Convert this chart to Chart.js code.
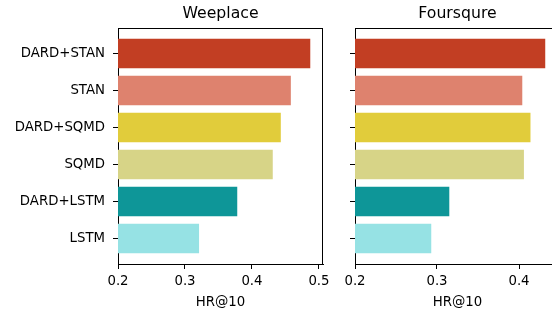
<!DOCTYPE html>
<html>
<head>
<meta charset="utf-8">
<script src="https://cdn.jsdelivr.net/npm/chart.js@4"></script>
<style>
  html, body { margin: 0; padding: 0; background: #fff; overflow: hidden; }
  #wrap { position: relative; width: 552px; height: 313px; overflow: hidden; }
  #left { position: absolute; left: 0; top: 0; }
  #right { position: absolute; left: 330px; top: 0; }
</style>
</head>
<body>
<div id="wrap">
  <canvas id="left" width="330" height="313"></canvas>
  <canvas id="right" width="240" height="313"></canvas>
</div>
<script>
// methods, top to bottom
const methods = ['DARD+STAN', 'STAN', 'DARD+SQMD', 'SQMD', 'DARD+LSTM', 'LSTM'];
const barColors = ['#c23e23', '#de826e', '#e1cc3b', '#d7d487', '#0e9698', '#96e2e4'];
const weeplaceHR = [0.487, 0.458, 0.443, 0.431, 0.378, 0.321];
const foursquareHR = [0.432, 0.404, 0.414, 0.406, 0.315, 0.293];
const weeplaceTicks = [0.2, 0.3, 0.4, 0.5];
const foursquareTicks = [0.2, 0.3, 0.4];

const FONT = 'DejaVu Sans';

// frame + titles drawn like matplotlib
const framePlugin = {
  id: 'frame',
  afterDraw(chart, args, opts) {
    const { ctx, chartArea: a } = chart;
    ctx.save();
    ctx.strokeStyle = '#000';
    ctx.lineWidth = 1;
    ctx.beginPath();
    ctx.moveTo(a.left, a.top + 0.5);
    ctx.lineTo(a.right, a.top + 0.5);
    ctx.moveTo(a.right - 0.5, a.top);
    ctx.lineTo(a.right - 0.5, a.bottom);
    ctx.stroke();
    const cx = (a.left + a.right) / 2;
    ctx.fillStyle = '#000';
    ctx.textAlign = 'center';
    ctx.textBaseline = 'alphabetic';
    ctx.font = '15.7px "' + FONT + '"';
    ctx.fillText(opts.title, cx, 17.5);
    ctx.font = '13.3px "' + FONT + '"';
    ctx.fillText(opts.xlabel, cx, 305.5);
    ctx.restore();
  }
};

function makeChart(id, values, xTicks, xMax, yWidth, padRight, showLabels, title) {
  const points = values.map((v, i) => ({ x: v, y: i }));
  return new Chart(document.getElementById(id), {
    type: 'bar',
    data: {
      datasets: [{
        data: points,
        backgroundColor: barColors,
        borderWidth: 0,
        barPercentage: 0.8,
        categoryPercentage: 1.0
      }]
    },
    options: {
      indexAxis: 'y',
      responsive: false,
      animation: false,
      layout: { padding: { top: 28, right: padRight, left: 0, bottom: 0 } },
      plugins: {
        legend: { display: false },
        tooltip: { enabled: false },
        frame: { title: title, xlabel: 'HR@10' }
      },
      scales: {
        x: {
          type: 'linear',
          min: 0.2,
          max: xMax,
          afterFit: (s) => { s.height = 313 - 264; s.paddingLeft = 0; s.paddingRight = 0; },
          afterBuildTicks: (s) => { s.ticks = xTicks.map(v => ({ value: v })); },
          ticks: {
            color: '#000',
            font: { family: FONT, size: 13.3 },
            padding: 5,
            maxRotation: 0,
            autoSkip: false,
            callback: (v) => Number(v).toFixed(1)
          },
          grid: { drawOnChartArea: false, drawTicks: true, tickLength: 5, color: '#000', lineWidth: 1 },
          border: { display: true, color: '#000', width: 1 }
        },
        y: {
          type: 'linear',
          reverse: true,
          offset: false,
          min: -0.69,
          max: 5.69,
          afterFit: (s) => { s.width = yWidth; s.paddingTop = 0; s.paddingBottom = 0; },
          afterBuildTicks: (s) => { s.ticks = methods.map((_, i) => ({ value: i })); },
          ticks: {
            color: '#000',
            font: { family: FONT, size: 13.3 },
            padding: 8,
            autoSkip: false,
            callback: (v) => showLabels ? methods[v] : ''
          },
          grid: { offset: false, drawOnChartArea: false, drawTicks: true, tickLength: 5, color: '#000', lineWidth: 1 },
          border: { display: true, color: '#000', width: 1 }
        }
      }
    },
    plugins: [framePlugin]
  });
}

makeChart('left', weeplaceHR, weeplaceTicks, 0.506, 118, 7, true, 'Weeplace');
makeChart('right', foursquareHR, foursquareTicks, 0.45, 25, 10, false, 'Foursqure');
</script>
</body>
</html>
